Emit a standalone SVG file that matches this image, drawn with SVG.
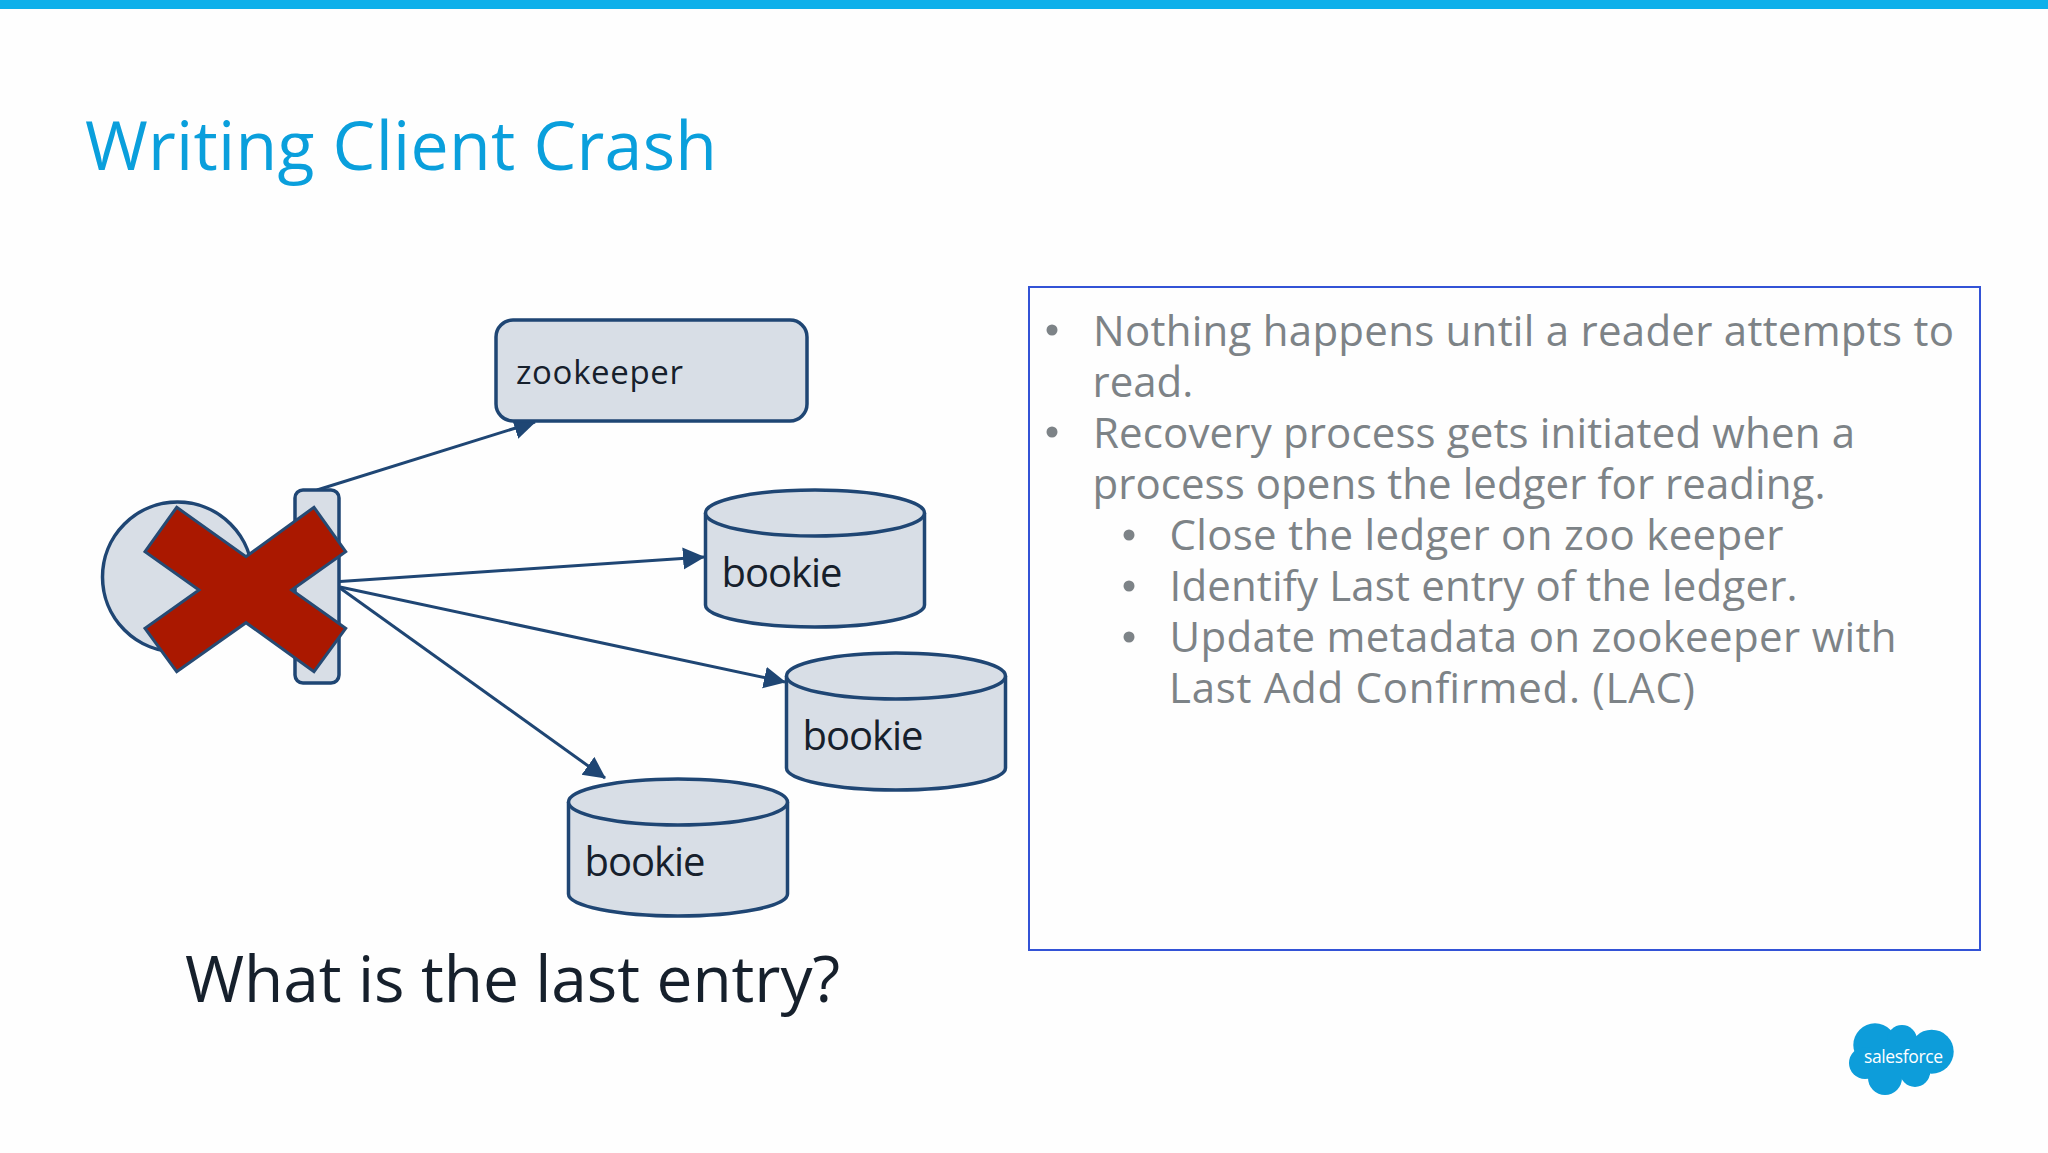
<svg xmlns="http://www.w3.org/2000/svg" width="2048" height="1153" viewBox="0 0 2048 1153">
<defs>
<style>
.shape{fill:#d8dee6;stroke:#1f4674;stroke-width:3.5}
.lbl{font-family:"Open Sans","Noto Sans",sans-serif;fill:#16202c}
.body{font-family:"Open Sans","Noto Sans",sans-serif;font-size:42px;fill:#7d8387}
.conn{stroke:#1f4674;stroke-width:3;fill:none;marker-end:url(#ah)}
.dot{fill:#7d8387}
</style>
<marker id="ah" markerUnits="userSpaceOnUse" markerWidth="24" markerHeight="24" refX="21" refY="11" orient="auto"><path d="M0 0L22 11L0 22Z" fill="#1f4674"/></marker>
<symbol id="cyl" overflow="visible"><path class="shape" d="M0 23V115C0 127 49 137 109.500 137S219 127 219 115V23"/><ellipse class="shape" cx="109.500" cy="23" rx="109.500" ry="23"/></symbol>
</defs>
<rect width="2048" height="1153" fill="#fefefe"/>
<rect id="topbar" width="2048" height="9" fill="#0eb0ea"/>
<text id="title" x="85" y="170" font-family="Open Sans,Noto Sans,sans-serif" font-size="68" fill="#0a9fdc" textLength="632">Writing Client Crash</text>
<g id="connectors">
<path class="conn" d="M317 490L535 422"/>
<path class="conn" d="M340 581.500L704 557"/>
<path class="conn" d="M340 587L785 682"/>
<path class="conn" d="M340 588L605 778"/>
</g>
<g id="client"><circle class="shape" cx="177.500" cy="577" r="75"/></g>
<g id="ledger-handle"><rect class="shape" x="295" y="490" width="44" height="193" rx="8"/></g>
<g id="zookeeper"><rect class="shape" x="496" y="320" width="311" height="101" rx="17"/><text class="lbl" x="516" y="384" font-size="33" textLength="167">zookeeper</text></g>
<g id="bookie1"><use href="#cyl" x="705.500" y="490"/><text class="lbl" x="721.500" y="587" font-size="40" textLength="121">bookie</text></g>
<g id="bookie2"><use href="#cyl" x="786.500" y="653"/><text class="lbl" x="802.500" y="750" font-size="40" textLength="121">bookie</text></g>
<g id="bookie3"><use href="#cyl" x="568.500" y="779"/><text class="lbl" x="584.500" y="876" font-size="40" textLength="121">bookie</text></g>
<g id="crash"><path d="M176.700 507.300L246 556.700L314 507.300L345.700 551.700L291.700 590L345.700 628.300L314 671.700L246 622.700L176.700 671.700L145 628.300L199 590L145 551.700Z" fill="#aa1800" stroke="#264a73" stroke-width="3"/></g>
<text id="question" class="lbl" x="185" y="1002" font-size="64" textLength="655">What is the last entry?</text>
<g id="notes">
<rect x="1029" y="287" width="951" height="663" fill="#fefefe" stroke="#3353d6" stroke-width="2"/>
<circle class="dot" cx="1052" cy="330" r="5.500"/><circle class="dot" cx="1052" cy="432" r="5.500"/>
<circle class="dot" cx="1129" cy="535" r="5.500"/><circle class="dot" cx="1129" cy="586" r="5.500"/><circle class="dot" cx="1129" cy="637" r="5.500"/>
<text class="body" x="1093" y="346" textLength="861">Nothing happens until a reader attempts to</text>
<text class="body" x="1092.500" y="397">read.</text>
<text class="body" x="1093" y="448" textLength="762">Recovery process gets initiated when a</text>
<text class="body" x="1092.500" y="499" textLength="733">process opens the ledger for reading.</text>
<text class="body" x="1169.500" y="550" textLength="614">Close the ledger on zoo keeper</text>
<text class="body" x="1169.500" y="601" textLength="628">Identify Last entry of the ledger.</text>
<text class="body" x="1169.500" y="652" textLength="727">Update metadata on zookeeper with</text>
<text class="body" x="1169" y="703" textLength="526">Last Add Confirmed. (LAC)</text>
</g>
<g id="logo">
<g fill="#0d9dda"><circle cx="1875" cy="1045" r="21.700"/><circle cx="1902" cy="1040" r="15"/><circle cx="1931.700" cy="1051.700" r="22"/><circle cx="1865" cy="1063" r="16"/><circle cx="1885" cy="1078" r="17"/><circle cx="1915" cy="1072" r="15"/><rect x="1870" y="1040" width="60" height="35"/></g>
<text x="1864" y="1063" font-family="Open Sans,sans-serif" font-size="17.500" fill="#fff" textLength="79">salesforce</text>
</g>
</svg>
